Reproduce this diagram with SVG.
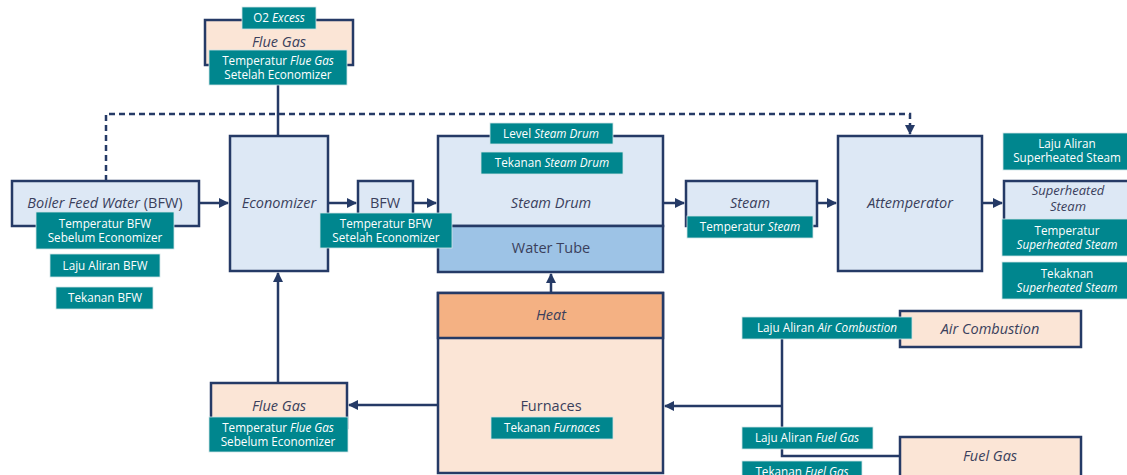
<svg xmlns="http://www.w3.org/2000/svg" width="1127" height="475" viewBox="0 0 1127 475">
<defs>
<marker id="arr" viewBox="0 0 10 10" refX="9" refY="5" markerWidth="4" markerHeight="4" orient="auto" markerUnits="strokeWidth">
<path d="M0,0 L10,5 L0,10 z" fill="#253a66"/>
</marker>
</defs>
<style>
.box{stroke:#253a66;stroke-width:2.5;}
.blue{fill:#dde8f5;}
.peach{fill:#fbe5d6;}
.tube{fill:#9dc3e6;}
.heat{fill:#f4b183;}
.lbl{fill:#00868e;stroke:#cfe3e6;stroke-width:0.8;}
.t{font-family:"Open Sans","Liberation Sans",sans-serif;font-size:14.5px;fill:#3a3f5c;text-anchor:middle;}
.s{font-size:13px;}
.w{font-family:"Open Sans","Liberation Sans",sans-serif;font-size:11.7px;fill:#ffffff;text-anchor:middle;}
.i{font-style:italic;}
.line{fill:none;stroke:#253a66;stroke-width:2.5;}
.dash{fill:none;stroke:#253a66;stroke-width:2.5;stroke-dasharray:6,4;}
</style>
<rect width="1127" height="475" fill="#ffffff"/>
<g id="connectors">
<path class="dash" d="M106,181 V114 H910 V134" marker-end="url(#arr)"/>
<path class="line" d="M278,85 V136"/>
<path class="line" d="M199,203 H228" marker-end="url(#arr)"/>
<path class="line" d="M328,203 H356" marker-end="url(#arr)"/>
<path class="line" d="M413,203 H436" marker-end="url(#arr)"/>
<path class="line" d="M663,203 H684" marker-end="url(#arr)"/>
<path class="line" d="M817,203 H836" marker-end="url(#arr)"/>
<path class="line" d="M982,203 H1002" marker-end="url(#arr)"/>
<path class="line" d="M278,383 V273" marker-end="url(#arr)"/>
<path class="line" d="M438,405 H349" marker-end="url(#arr)"/>
<path class="line" d="M551,293 V274" marker-end="url(#arr)"/>
<path class="line" d="M782,406 H665" marker-end="url(#arr)"/>
<path class="line" d="M782,339 V456 H900"/>
</g>
<g id="flue-gas-top">
<rect class="box peach" x="205" y="20" width="148" height="45"/>
<text class="t i" x="279" y="47">Flue Gas</text>
<rect class="lbl" x="242" y="7" width="74" height="22"/>
<text class="w" x="279" y="22">O2 <tspan class="i">Excess</tspan></text>
<rect class="lbl" x="209" y="50" width="138" height="35"/>
<text class="w" x="278" y="65">Temperatur <tspan class="i">Flue Gas</tspan></text>
<text class="w" x="278" y="79">Setelah Economizer</text>
</g>
<g id="bfw-source">
<rect class="box blue" x="12" y="181" width="187" height="45"/>
<text class="t" x="105" y="208"><tspan class="i">Boiler Feed Water</tspan> (BFW)</text>
<rect class="lbl" x="36" y="212" width="138" height="37"/>
<text class="w" x="105" y="228">Temperatur BFW</text>
<text class="w" x="105" y="242">Sebelum Economizer</text>
<rect class="lbl" x="50" y="254" width="110" height="23"/>
<text class="w" x="105" y="270">Laju Aliran BFW</text>
<rect class="lbl" x="56" y="287" width="97" height="22"/>
<text class="w" x="105" y="302">Tekanan BFW</text>
</g>
<g id="economizer">
<rect class="box blue" x="230" y="136" width="98" height="135"/>
<text class="t i" x="279" y="208">Economizer</text>
</g>
<g id="steam-drum">
<rect class="box blue" x="438" y="136" width="225" height="90"/>
<rect class="box tube" x="438" y="226" width="225" height="46"/>
<text class="t i" x="551" y="208">Steam Drum</text>
<text class="t" x="551" y="253">Water Tube</text>
<rect class="lbl" x="490" y="123" width="123" height="21"/>
<text class="w" x="551" y="138">Level <tspan class="i">Steam Drum</tspan></text>
<rect class="lbl" x="481" y="152" width="142" height="22"/>
<text class="w" x="552" y="167">Tekanan <tspan class="i">Steam Drum</tspan></text>
</g>
<g id="bfw">
<rect class="box blue" x="358" y="181" width="55" height="45"/>
<text class="t" x="385" y="208">BFW</text>
<rect class="lbl" x="320" y="213" width="132" height="35"/>
<text class="w" x="386" y="228">Temperatur BFW</text>
<text class="w" x="386" y="242">Setelah Economizer</text>
</g>
<g id="steam">
<rect class="box blue" x="686" y="181" width="131" height="45"/>
<text class="t i" x="750" y="208">Steam</text>
<rect class="lbl" x="687" y="216" width="126" height="22"/>
<text class="w" x="750" y="231">Temperatur <tspan class="i">Steam</tspan></text>
</g>
<g id="attemperator">
<rect class="box blue" x="838" y="136" width="144" height="135"/>
<text class="t i" x="910" y="208">Attemperator</text>
</g>
<g id="superheated-steam">
<rect class="lbl" x="1003" y="133" width="130" height="37"/>
<text class="w" x="1067" y="148">Laju Aliran</text>
<text class="w" x="1067" y="162">Superheated Steam</text>
<rect class="box blue" x="1004" y="181" width="130" height="45"/>
<text class="t s i" x="1068" y="195">Superheated</text>
<text class="t s i" x="1068" y="211">Steam</text>
<rect class="lbl" x="1002" y="219" width="131" height="37"/>
<text class="w" x="1067" y="235">Temperatur</text>
<text class="w i" x="1067" y="249">Superheated Steam</text>
<rect class="lbl" x="1002" y="262" width="131" height="37"/>
<text class="w" x="1067" y="278">Tekaknan</text>
<text class="w i" x="1067" y="292">Superheated Steam</text>
</g>
<g id="furnaces">
<rect class="box peach" x="438" y="293" width="225" height="180"/>
<rect class="box heat" x="438" y="293" width="225" height="45"/>
<text class="t i" x="551" y="320">Heat</text>
<text class="t" x="551" y="411">Furnaces</text>
<rect class="lbl" x="491" y="417" width="122" height="22"/>
<text class="w" x="552" y="432">Tekanan <tspan class="i">Furnaces</tspan></text>
</g>
<g id="flue-gas-bottom">
<rect class="box peach" x="211" y="383" width="136" height="45"/>
<text class="t i" x="279" y="411">Flue Gas</text>
<rect class="lbl" x="209" y="417" width="139" height="35"/>
<text class="w" x="278" y="432">Temperatur <tspan class="i">Flue Gas</tspan></text>
<text class="w" x="278" y="446">Sebelum Economizer</text>
</g>
<g id="air-combustion">
<rect class="box peach" x="900" y="311" width="181" height="36"/>
<text class="t i" x="990" y="334">Air Combustion</text>
<rect class="lbl" x="742" y="317" width="170" height="22"/>
<text class="w" x="827" y="332">Laju Aliran <tspan class="i">Air Combustion</tspan></text>
</g>
<g id="fuel-gas">
<rect class="box peach" x="900" y="437" width="181" height="45"/>
<text class="t i" x="990" y="461">Fuel Gas</text>
<rect class="lbl" x="742" y="427" width="131" height="22"/>
<text class="w" x="807" y="442">Laju Aliran <tspan class="i">Fuel Gas</tspan></text>
<rect class="lbl" x="742" y="461" width="120" height="22"/>
<text class="w" x="802" y="476">Tekanan <tspan class="i">Fuel Gas</tspan></text>
</g>
</svg>
